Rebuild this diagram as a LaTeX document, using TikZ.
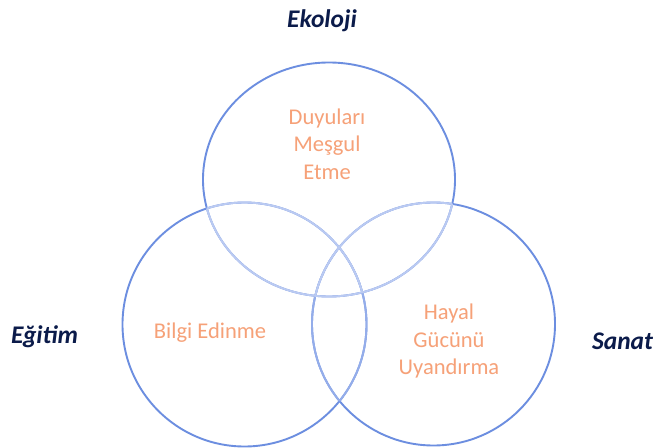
\documentclass[tikz,border=0pt]{standalone}
\usepackage{fontspec}
\setmainfont{Carlito}
\definecolor{ringblue}{HTML}{6C8EE0}
\definecolor{ringpale}{HTML}{BACAF2}
\definecolor{ringmid}{HTML}{94ADEA}
\definecolor{ideaorange}{HTML}{F6A178}
\definecolor{fieldnavy}{HTML}{0B1B4A}

\begin{document}
\begin{tikzpicture}[
    x=1bp, y=-1bp,
    ring/.style={
        line width=1.9bp,
        draw=#1
    },
    idea/.style={
        font=\fontsize{22.6}{27.5}\selectfont,
        text=ideaorange,
        align=center,
        inner sep=0pt
    },
    field/.style={
        font=\fontsize{25.5}{30}\selectfont\bfseries\itshape,
        text=fieldnavy,
        anchor=base,
        inner sep=0pt
    }
]

\useasboundingbox[fill=white] (0,0) rectangle (654,448);

% centres of the three sets
\coordinate (ceko) at (329,179.5);
\coordinate (cegi) at (244.5,324.5);
\coordinate (csan) at (433.5,324);

% outlines
\draw[ring=ringblue] (ceko) ellipse [x radius=126, y radius=117];
\draw[ring=ringblue] (cegi) circle [radius=122];
\draw[ring=ringblue] (csan) circle [radius=121.5];

% paler arcs where the sets overlap
\begin{scope}
    \clip (cegi) circle [radius=122];
    \draw[ring=ringmid] (csan) circle [radius=121.5];
\end{scope}
\begin{scope}
    \clip (csan) circle [radius=121.5];
    \draw[ring=ringmid] (cegi) circle [radius=122];
\end{scope}
\begin{scope}
    \clip (ceko) ellipse [x radius=126, y radius=117];
    \draw[ring=ringpale] (cegi) circle [radius=122];
    \draw[ring=ringpale] (csan) circle [radius=121.5];
\end{scope}
\begin{scope}
    \clip (cegi) circle [radius=122] (csan) circle [radius=121.5];
    \draw[ring=ringpale] (ceko) ellipse [x radius=126, y radius=117];
\end{scope}

% set contents
\node[idea] (duyu) at (327,144) {Duyuları\\Meşgul\\Etme};
\node[idea] (bilgi) at (210,333) {Bilgi Edinme};
\node[idea] (hayal) at (449,341) {Hayal\\Gücünü\\Uyandırma};

% set names
\node[field] (ekoloji) at (322,28) {Ekoloji};
\node[field] (egitim) at (44.5,343) {Eğitim};
\node[field] (sanat) at (622.5,349) {Sanat};

\end{tikzpicture}
\end{document}
